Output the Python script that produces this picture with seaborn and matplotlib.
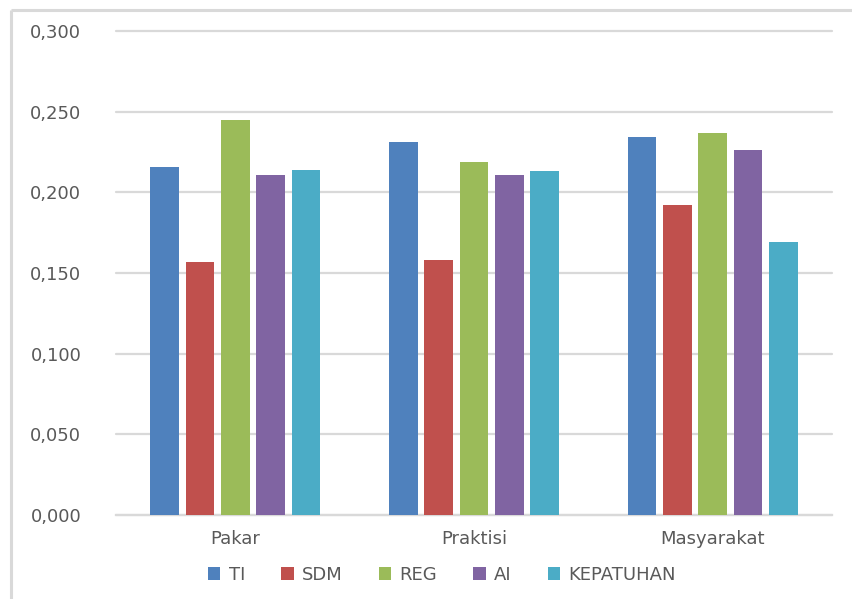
import matplotlib
matplotlib.use("Agg")
import matplotlib.pyplot as plt
from matplotlib.ticker import FuncFormatter, MultipleLocator
from matplotlib.lines import Line2D
from matplotlib.patches import Patch
import pandas as pd
import seaborn as sns

# Respondent groups and criteria weights
groups = ["Pakar", "Praktisi", "Masyarakat"]
criteria = ["TI", "SDM", "REG", "AI", "KEPATUHAN"]
ti = [0.216, 0.231, 0.234]
sdm = [0.157, 0.158, 0.192]
reg = [0.245, 0.219, 0.237]
ai = [0.211, 0.211, 0.226]
kepatuhan = [0.214, 0.213, 0.169]
palette = ["#4F81BD", "#C0504D", "#9BBB59", "#8064A2", "#4BACC6"]

series = {"TI": ti, "SDM": sdm, "REG": reg, "AI": ai, "KEPATUHAN": kepatuhan}
rows = []
for crit in criteria:
    for g, v in zip(groups, series[crit]):
        rows.append({"Kelompok": g, "Kriteria": crit, "Bobot": v})
df = pd.DataFrame(rows)

sns.set_style("white")
plt.rcParams["font.family"] = ["DejaVu Sans"]
text_color = "#595959"
grid_color = "#D9D9D9"

fig = plt.figure(figsize=(8.53, 5.99), dpi=100)
ax = fig.add_axes([116 / 853, 1 - 515 / 599, (832 - 116) / 853, (515 - 31) / 599])

sns.barplot(data=df, x="Kelompok", y="Bobot", hue="Kriteria",
            order=groups, hue_order=criteria, palette=palette,
            width=0.74, gap=0.19, saturation=1, errorbar=None,
            edgecolor="none", legend=False, ax=ax, zorder=3)

ax.set_xlim(-0.5, 2.5)
ax.set_ylim(0, 0.3)
ax.yaxis.set_major_locator(MultipleLocator(0.05))
ax.yaxis.set_major_formatter(FuncFormatter(lambda v, p: f"{v:.3f}".replace(".", ",")))
ax.grid(axis="y", color=grid_color, linewidth=1.6, zorder=0)
for gl in ax.get_ygridlines():
    gl.set_clip_on(False)
ax.set_axisbelow(True)
for s in ["top", "right", "left"]:
    ax.spines[s].set_visible(False)
ax.spines["bottom"].set_color(grid_color)
ax.spines["bottom"].set_linewidth(1.6)
ax.set_xlabel("")
ax.set_ylabel("")
ax.tick_params(axis="y", length=0, pad=25, labelsize=13, labelcolor=text_color)
ax.tick_params(axis="x", length=0, pad=11, labelsize=13, labelcolor=text_color)

handles = [Patch(facecolor=c, edgecolor="none", label=l) for c, l in zip(palette, criteria)]
leg = fig.legend(handles=handles, loc="center", bbox_to_anchor=(0.518, 1 - 575 / 599),
                 ncol=5, frameon=False, fontsize=13, handlelength=0.7,
                 handleheight=0.7, handletextpad=0.45, columnspacing=2.0)
for t in leg.get_texts():
    t.set_color(text_color)

# Chart frame (left and top edges)
fig.add_artist(Line2D([11 / 853, 11 / 853], [0, 1 - 10 / 599], transform=fig.transFigure,
                      color=grid_color, linewidth=2.2, solid_capstyle="butt"))
fig.add_artist(Line2D([11 / 853, 1.01], [1 - 10 / 599, 1 - 10 / 599], transform=fig.transFigure,
                      color=grid_color, linewidth=2.2, solid_capstyle="butt"))

fig.savefig("out.png", dpi=100)
